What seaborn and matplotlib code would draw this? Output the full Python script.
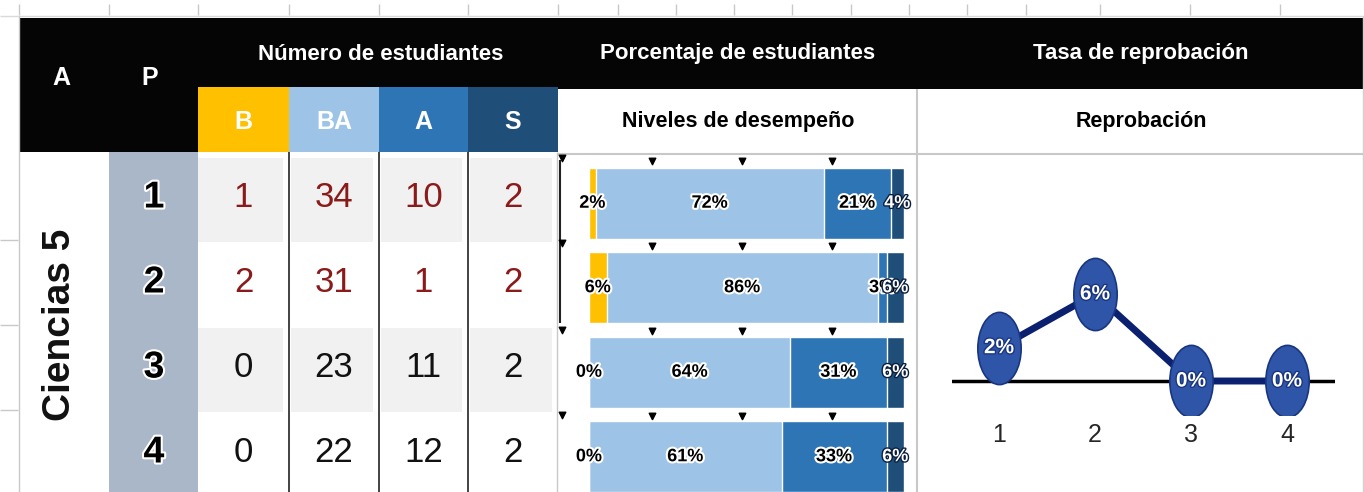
import pandas as pd
import seaborn as sns
import matplotlib.pyplot as plt
import matplotlib.patheffects as pe
from matplotlib import font_manager
from matplotlib.patches import Rectangle
from matplotlib.path import Path
from matplotlib.transforms import Affine2D

# datos de la tabla
asignatura = "Ciencias 5"
periodos = ["1", "2", "3", "4"]
niveles = ["B", "BA", "A", "S"]
alumnos_B = [1, 2, 0, 0]
alumnos_BA = [34, 31, 23, 22]
alumnos_A = [10, 1, 11, 12]
alumnos_S = [2, 2, 2, 2]

colores = {"B": "#ffc000", "BA": "#9dc3e6", "A": "#2e75b6", "S": "#1f4e79"}

sns.set_theme(style="white")
nombres = {f.name for f in font_manager.fontManager.ttflist}
angosta = "Liberation Sans Narrow" if "Liberation Sans Narrow" in nombres else "Liberation Sans"
plt.rcParams["font.family"] = [angosta, "DejaVu Sans"]

tabla = pd.DataFrame({"P": periodos, "B": alumnos_B, "BA": alumnos_BA,
                      "A": alumnos_A, "S": alumnos_S})
tabla["total"] = tabla[niveles].sum(axis=1)
for n in niveles:
    tabla["p_" + n] = tabla[n] / tabla["total"]
tabla["tasa"] = tabla["p_B"]

W, H = 1364, 492
fig = plt.figure(figsize=(W / 100, H / 100), dpi=100)
fondo = fig.add_axes([0, 0, 1, 1])
fondo.set_xlim(0, W)
fondo.set_ylim(H, 0)
fondo.axis("off")


def caja(x0, y0, x1, y1, color, z=1):
    fondo.add_patch(Rectangle((x0, y0), x1 - x0, y1 - y0, facecolor=color,
                              edgecolor="none", zorder=z))


def linea(xs, ys, color="#c8c8c8", lw=1.0, z=3):
    fondo.plot(xs, ys, color=color, lw=lw, zorder=z, solid_capstyle="butt")


brillo = [pe.withStroke(linewidth=3, foreground="white")]

# cuadricula de la hoja
linea([0, W], [16, 16], color="#d9d9d9")
for x in [19, 109, 198, 289, 379, 468, 558, 618, 676, 734, 792, 851, 909, 967, 1026, 1100, 1190, 1280]:
    linea([x, x], [4, 15], color="#c8c8c8")
linea([19, 19], [16, H], color="#c8c8c8")
for y in [240, 325, 410]:
    linea([0, 18], [y, y], color="#c8c8c8")

# encabezado negro
caja(19, 18, W, 89, "#050505")
caja(19, 89, 198, 152, "#050505")
cols = [198, 289, 379, 468, 558]
for i, n in enumerate(niveles):
    caja(cols[i], 87, cols[i + 1], 152, colores[n], z=2)
    fondo.text((cols[i] + cols[i + 1]) / 2, 122, n, color="white", fontsize=18,
               fontweight="bold", ha="center", va="center", zorder=4)

fondo.text(61, 78, "A", color="white", fontsize=18, fontweight="bold", ha="center", va="center")
fondo.text(150, 78, "P", color="white", fontsize=18, fontweight="bold", ha="center", va="center")
fondo.text(381, 54, "Número de estudiantes", color="white", fontsize=16,
           fontweight="bold", ha="center", va="center")
fondo.text(738, 54, "Porcentaje de estudiantes", color="white", fontsize=16,
           fontweight="bold", ha="center", va="center")
fondo.text(1141, 54, "Tasa de reprobación", color="white", fontsize=16,
           fontweight="bold", ha="center", va="center")
fondo.text(738, 121, "Niveles de desempeño", color="black", fontsize=15.5,
           fontweight="bold", ha="center", va="center")
fondo.text(1141, 121, "Reprobación", color="black", fontsize=15.5,
           fontweight="bold", ha="center", va="center")
linea([558, W], [154, 154], color="#c8c8c8", lw=1.5)
linea([917, 917], [89, H], color="#c8c8c8", lw=1.5)
linea([W - 1, W - 1], [16, H], color="#d0d0d0")

# columna de periodos y asignatura
caja(109, 152, 198, H, "#aab7c9")
fondo.text(60, 325, asignatura, rotation=90, fontsize=28, fontweight="bold",
           family=["Liberation Sans", "DejaVu Sans"], ha="center", va="center",
           color="#111111")

filas = [155, 240, 325, 410, 495]
for r, p in enumerate(periodos):
    yc = (filas[r] + filas[r + 1]) / 2
    fondo.text(154, yc, p, fontsize=27, fontweight="bold", color="black",
               ha="center", va="center", path_effects=brillo, zorder=4)
    if r % 2 == 0:
        for i in range(4):
            x0 = cols[i] + (2 if i else 0)
            caja(x0, filas[r] + 3, cols[i + 1] - 6, filas[r + 1] + 2, "#f1f1f1")
    color_num = "#8b1a1a" if r < 2 else "#111111"
    for i, n in enumerate(niveles):
        fondo.text((cols[i] + cols[i + 1]) / 2, yc, str(tabla[n][r]), fontsize=25,
                   color=color_num, ha="center", va="center", zorder=4)
for x in [289, 379, 468]:
    linea([x, x], [152, H], color="#222222", lw=1.2)
linea([557, 557], [152, H], color="#c8c8c8")
linea([560, 560], [160, 323], color="#222222", lw=1.5)

# marcas de comentario de la hoja
for yb in [161, 246, 331, 416]:
    fondo.scatter([652, 742, 832], [yb, yb, yb], marker="v", s=22, color="black", zorder=5)
for yb in [158, 243, 330, 415]:
    fondo.scatter([562], [yb], marker="v", s=22, color="black", zorder=5)

# barras apiladas de porcentaje
ax_b = fig.add_axes([589 / W, 1 - 499 / H, (904 - 589) / W, (499 - 161) / H])
acumulado = tabla[["p_" + n for n in niveles]].cumsum(axis=1)
acumulado.columns = niveles
acumulado["P"] = periodos
for n in reversed(niveles):
    sns.barplot(data=acumulado, x=n, y="P", order=periodos, color=colores[n],
                saturation=1, width=0.84, errorbar=None, ax=ax_b)
ax_b.set_xlim(0, 1)
ax_b.set_ylim(3.5, -0.5)
ax_b.axis("off")
for r in range(len(periodos)):
    inicio = 0
    for n in niveles:
        v = tabla["p_" + n][r]
        if n == "S":
            ax_b.text(inicio + v / 2, r, f"{v:.0%}", color="white", fontsize=13,
                      fontweight="bold", ha="center", va="center", zorder=6,
                      path_effects=[pe.withStroke(linewidth=2, foreground="#0b1f3f")])
        else:
            ax_b.text(inicio + v / 2, r, f"{v:.0%}", color="black", fontsize=13,
                      fontweight="bold", ha="center", va="center", path_effects=brillo)
        inicio += v

# linea de reprobacion
ax_l = fig.add_axes([952 / W, 1 - 415 / H, (1335 - 952) / W, (415 - 152) / H])
ax_l.set_xlim(0.51, 4.5)
ax_l.set_ylim(-0.0217, 0.1462)
ax_l.axhline(0, color="black", lw=2.5, zorder=1)
elipse = Path.unit_circle().transformed(Affine2D().scale(0.6, 1.0))
sns.lineplot(x=[int(p) for p in periodos], y=tabla["tasa"], ax=ax_l,
             color="#0b2170", lw=5, marker=elipse, markersize=52,
             markerfacecolor="#2f55a8", markeredgecolor="#1a3580",
             markeredgewidth=1.2, zorder=2)
for p, t in zip(periodos, tabla["tasa"]):
    ax_l.text(int(p), t, f"{t:.0%}", color="white", fontsize=15, fontweight="bold",
              ha="center", va="center", zorder=5,
              path_effects=[pe.withStroke(linewidth=2, foreground="#1a3580")])
ax_l.set_xticks([int(p) for p in periodos])
ax_l.set_xticklabels(periodos, fontsize=18)
ax_l.set_yticks([])
ax_l.tick_params(axis="x", length=0, pad=6)
ax_l.set_xlabel("")
ax_l.set_ylabel("")
for s in ax_l.spines.values():
    s.set_visible(False)
ax_l.patch.set_alpha(0)

fig.savefig("out.png", dpi=100)
